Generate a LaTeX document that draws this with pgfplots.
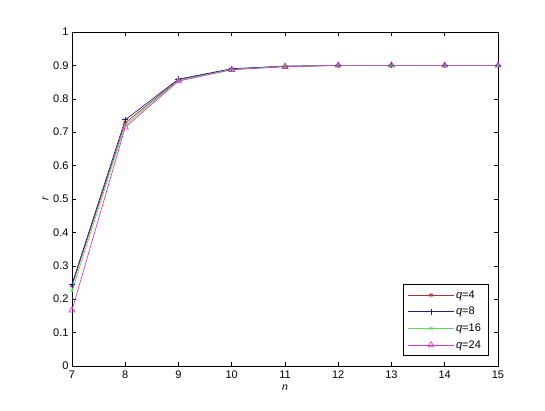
\documentclass[border=0pt]{standalone}
\usepackage{pgfplots}
\pgfplotsset{compat=1.18}
\usepackage{fontspec}
\setmainfont{Liberation Sans}
\definecolor{cq4}{RGB}{175,50,50}
\definecolor{cq8}{RGB}{30,30,140}
\definecolor{cq16}{RGB}{90,220,90}
\definecolor{cq24}{RGB}{215,60,205}
\begin{document}
\begin{tikzpicture}
\path[use as bounding box] (-72pt,-44pt) rectangle (473pt,366pt);
\begin{axis}[
  at={(0,0)}, anchor=south west,
  scale only axis, width=426pt, height=334pt,
  xmin=7, xmax=15, ymin=0, ymax=1,
  xtick={7,8,...,15}, ytick={0,0.1,...,1.0},
  yticklabels={0,0.1,0.2,0.3,0.4,0.5,0.6,0.7,0.8,0.9,1},
  tick align=inside, major tick length=4pt,
  tick style={black, line width=0.5pt},
  axis line style={black, line width=0.6pt},
  /pgf/number format/assume math mode=true,
  ticklabel style={font=\fontsize{11}{13}\selectfont},
  xticklabel style={yshift=-1pt},
  xlabel={\fontsize{10.5}{12}\selectfont\itshape n},
  ylabel={\fontsize{10.5}{12}\selectfont\itshape r},
  xlabel style={yshift=0pt},
  ylabel style={yshift=-2pt},
  legend style={font=\fontsize{11}{13}\selectfont, draw=black, line width=0.6pt, at={(0.977,0.03)}, anchor=south east, row sep=3.5pt, inner xsep=5pt, inner ysep=4pt},
  legend cell align=left,
  legend image code/.code={\draw[#1] (0cm,0cm) -- (1.6cm,0cm); \path[#1,mark repeat=2,mark phase=2] plot coordinates {(0cm,0cm) (0.8cm,0cm) (1.6cm,0cm)};},
]
\addplot[cq4, line width=0.7pt, mark=asterisk, mark size=2.5pt] coordinates {
(7,0.240) (8,0.728) (9,0.857) (10,0.889) (11,0.897) (12,0.900) (13,0.900) (14,0.900) (15,0.900)};
\addlegendentry{\textit{q}=4}
\addplot[cq8, line width=0.7pt, mark=+, mark size=3pt] coordinates {
(7,0.245) (8,0.737) (9,0.859) (10,0.890) (11,0.898) (12,0.900) (13,0.900) (14,0.900) (15,0.900)};
\addlegendentry{\textit{q}=8}
\addplot[cq16, line width=0.7pt, mark=x, mark size=2.2pt] coordinates {
(7,0.225) (8,0.722) (9,0.855) (10,0.888) (11,0.897) (12,0.900) (13,0.900) (14,0.900) (15,0.900)};
\addlegendentry{\textit{q}=16}
\addplot[cq24, line width=0.7pt, mark=triangle, mark size=3.5pt] coordinates {
(7,0.167) (8,0.715) (9,0.853) (10,0.887) (11,0.896) (12,0.900) (13,0.900) (14,0.900) (15,0.900)};
\addlegendentry{\textit{q}=24}
\end{axis}
\end{tikzpicture}
\end{document}
